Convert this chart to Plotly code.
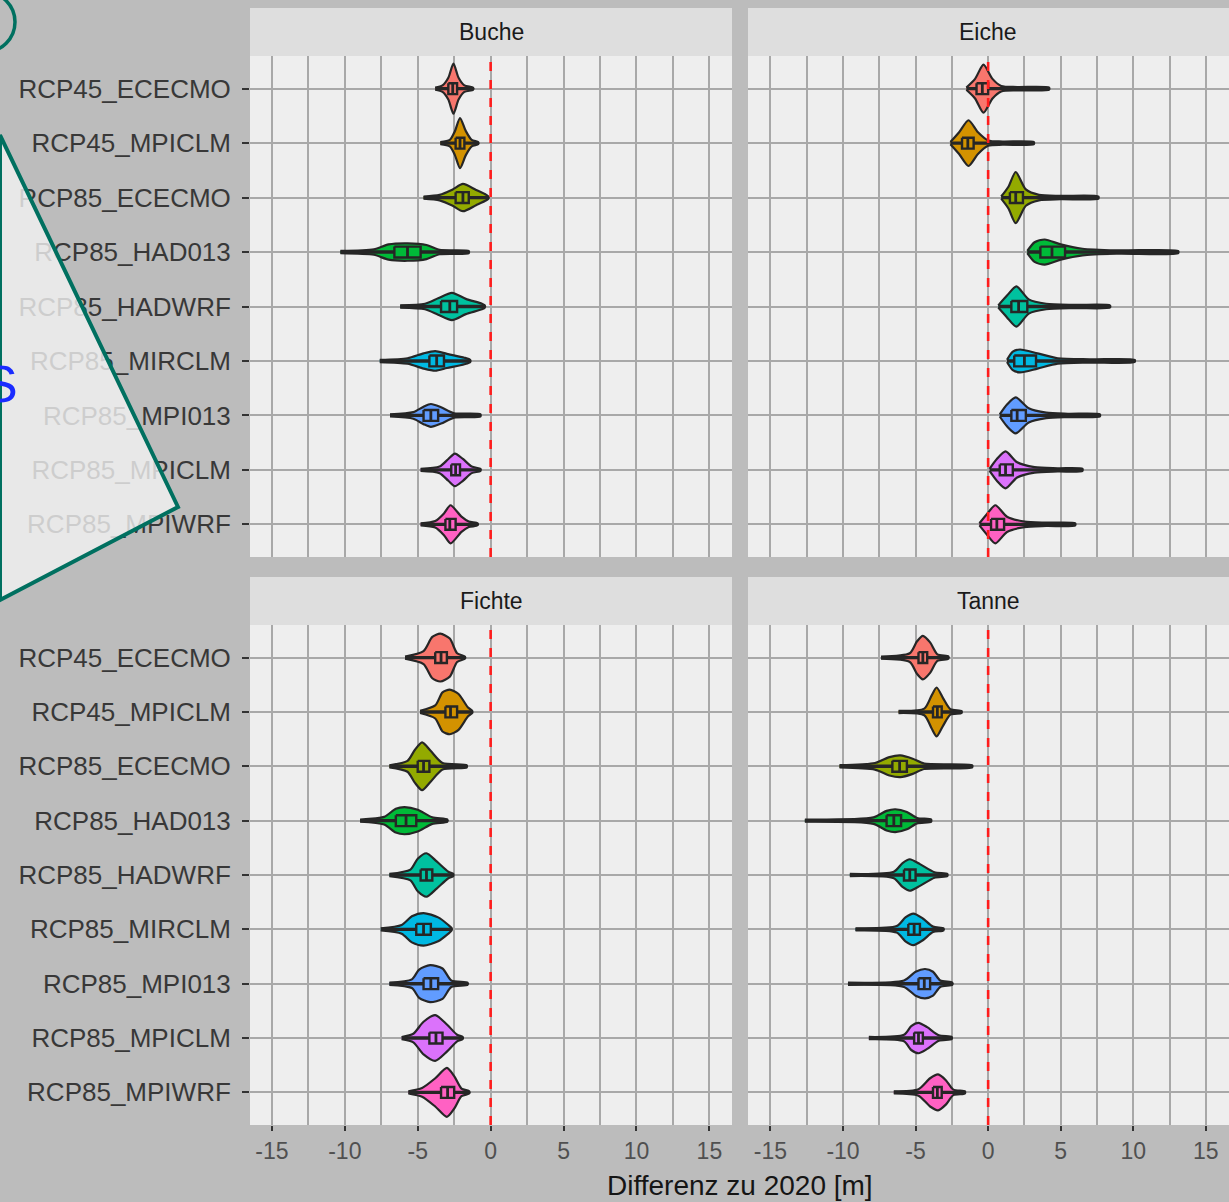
import plotly.graph_objects as go

W, H = 1229, 1202

categories = ["RCP45_ECECMO", "RCP45_MPICLM", "RCP85_ECECMO", "RCP85_HAD013",
              "RCP85_HADWRF", "RCP85_MIRCLM", "RCP85_MPI013", "RCP85_MPICLM",
              "RCP85_MPIWRF"]
colors = ["#F8766D", "#D39200", "#93AA00", "#00BA38", "#00C19F",
          "#00B9E3", "#619CFF", "#DB72FB", "#FF61C3"]
panels = ["Buche", "Eiche", "Fichte", "Tanne"]
x_ticks = [-15, -10, -5, 0, 5, 10, 15]

# ---- violin outline knots (x positions) and half widths (category units) ----
buche_vx = [
    [-3.8, -3.3, -2.9, -2.55, -2.2, -1.8, -1.2],
    [-3.45, -2.8, -2.45, -2.1, -1.7, -1.3, -0.85],
    [-4.6, -3.5, -2.6, -1.9, -1.0, -0.3, -0.15],
    [-10.3, -8.0, -7.0, -5.7, -4.4, -3.5, -1.5],
    [-6.2, -4.5, -3.6, -2.65, -1.7, -0.6, -0.4],
    [-7.6, -5.7, -4.6, -3.8, -3.0, -1.8, -1.4],
    [-6.9, -5.3, -4.6, -4.1, -3.4, -2.5, -0.7],
    [-4.8, -3.5, -2.9, -2.45, -1.9, -1.3, -0.7],
    [-4.8, -3.8, -3.2, -2.75, -2.0, -1.5, -0.9],
]
buche_vw = [
    [0.02, 0.06, 0.2, 0.46, 0.2, 0.06, 0.02],
    [0.02, 0.06, 0.22, 0.46, 0.22, 0.06, 0.02],
    [0.02, 0.05, 0.15, 0.25, 0.14, 0.05, 0.02],
    [0.02, 0.05, 0.14, 0.16, 0.13, 0.04, 0.02],
    [0.02, 0.05, 0.15, 0.25, 0.14, 0.05, 0.02],
    [0.02, 0.05, 0.14, 0.18, 0.13, 0.06, 0.02],
    [0.02, 0.06, 0.16, 0.21, 0.15, 0.04, 0.02],
    [0.02, 0.06, 0.2, 0.3, 0.2, 0.06, 0.02],
    [0.02, 0.06, 0.2, 0.35, 0.14, 0.05, 0.02],
]
buche_q1 = [-2.9, -2.4, -2.4, -6.6, -3.4, -4.2, -4.6, -2.7, -3.1]
buche_med = [-2.6, -2.1, -1.9, -5.7, -2.8, -3.7, -4.1, -2.4, -2.8]
buche_q3 = [-2.3, -1.8, -1.5, -4.8, -2.3, -3.2, -3.6, -2.1, -2.4]

eiche_vx = [
    [-1.5, -0.9, -0.32, 0.3, 0.9, 2.0, 4.2],
    [-2.6, -2.0, -1.35, -0.7, 0.0, 1.0, 3.15],
    [0.9, 1.4, 1.9, 2.6, 3.5, 5.0, 7.6],
    [2.7, 3.2, 3.9, 5.0, 6.5, 9.0, 13.1],
    [0.7, 1.3, 1.95, 2.8, 4.0, 6.0, 8.4],
    [1.3, 1.7, 2.2, 3.4, 4.8, 7.0, 10.1],
    [0.8, 1.3, 1.9, 2.8, 4.0, 5.5, 7.7],
    [0.1, 0.6, 1.2, 2.0, 3.2, 4.8, 6.5],
    [-0.6, -0.05, 0.5, 1.3, 2.5, 4.0, 6.0],
]
eiche_vw = [
    [0.02, 0.18, 0.44, 0.18, 0.05, 0.03, 0.02],
    [0.02, 0.2, 0.42, 0.2, 0.05, 0.03, 0.02],
    [0.02, 0.2, 0.47, 0.15, 0.05, 0.03, 0.02],
    [0.02, 0.18, 0.23, 0.14, 0.06, 0.03, 0.02],
    [0.02, 0.2, 0.37, 0.13, 0.05, 0.03, 0.02],
    [0.02, 0.17, 0.21, 0.14, 0.05, 0.03, 0.02],
    [0.02, 0.2, 0.33, 0.13, 0.05, 0.03, 0.02],
    [0.02, 0.2, 0.34, 0.14, 0.05, 0.03, 0.02],
    [0.02, 0.2, 0.35, 0.14, 0.05, 0.03, 0.02],
]
eiche_q1 = [-0.8, -1.8, 1.5, 3.6, 1.6, 1.8, 1.6, 0.8, 0.2]
eiche_med = [-0.4, -1.4, 1.9, 4.4, 2.1, 2.5, 2.0, 1.2, 0.6]
eiche_q3 = [0.0, -1.0, 2.4, 5.3, 2.7, 3.3, 2.6, 1.7, 1.1]

fichte_vx = [
    [-5.87, -4.6, -4.0, -3.45, -2.8, -2.3, -1.76],
    [-4.84, -3.8, -3.3, -2.8, -2.2, -1.55, -1.26],
    [-6.94, -5.7, -5.2, -4.7, -4.1, -3.3, -1.64],
    [-8.95, -7.3, -6.5, -5.9, -5.0, -4.0, -2.97],
    [-6.94, -5.5, -5.0, -4.4, -3.7, -2.9, -2.56],
    [-7.53, -6.1, -5.4, -4.6, -3.6, -2.9, -2.67],
    [-6.94, -5.4, -4.9, -4.15, -3.3, -2.7, -1.58],
    [-6.1, -5.3, -4.6, -3.8, -3.0, -2.3, -1.92],
    [-5.64, -4.7, -3.8, -3.0, -2.5, -2.0, -1.46],
]
fichte_vw = [
    [0.02, 0.12, 0.38, 0.44, 0.35, 0.08, 0.02],
    [0.02, 0.12, 0.36, 0.41, 0.33, 0.08, 0.02],
    [0.02, 0.1, 0.3, 0.44, 0.28, 0.06, 0.02],
    [0.02, 0.07, 0.22, 0.25, 0.2, 0.06, 0.02],
    [0.02, 0.1, 0.3, 0.4, 0.25, 0.06, 0.02],
    [0.02, 0.08, 0.24, 0.3, 0.22, 0.08, 0.02],
    [0.02, 0.08, 0.26, 0.34, 0.28, 0.06, 0.02],
    [0.02, 0.08, 0.3, 0.42, 0.25, 0.06, 0.02],
    [0.02, 0.08, 0.26, 0.45, 0.3, 0.07, 0.02],
]
fichte_q1 = [-3.8, -3.1, -5.0, -6.5, -4.8, -5.1, -4.6, -4.2, -3.4]
fichte_med = [-3.4, -2.75, -4.6, -5.8, -4.4, -4.6, -4.1, -3.75, -2.95]
fichte_q3 = [-3.0, -2.3, -4.2, -5.1, -4.0, -4.1, -3.6, -3.3, -2.5]

tanne_vx = [
    [-7.38, -5.4, -4.9, -4.5, -4.0, -3.5, -2.74],
    [-6.17, -4.4, -3.9, -3.55, -3.1, -2.6, -1.83],
    [-10.24, -7.8, -6.8, -6.05, -5.2, -4.4, -1.1],
    [-12.63, -7.9, -7.0, -6.4, -5.6, -4.9, -3.93],
    [-9.53, -6.5, -5.9, -5.4, -4.7, -3.7, -2.81],
    [-9.14, -6.3, -5.7, -5.15, -4.5, -3.8, -3.08],
    [-9.66, -5.8, -5.0, -4.35, -3.8, -3.3, -2.47],
    [-8.22, -5.8, -5.3, -4.8, -4.2, -3.4, -2.51],
    [-6.5, -4.8, -4.0, -3.45, -2.9, -2.4, -1.6],
]
tanne_vw = [
    [0.02, 0.08, 0.3, 0.4, 0.28, 0.06, 0.02],
    [0.02, 0.06, 0.3, 0.45, 0.25, 0.05, 0.02],
    [0.02, 0.06, 0.17, 0.2, 0.14, 0.05, 0.02],
    [0.02, 0.06, 0.18, 0.21, 0.16, 0.05, 0.02],
    [0.02, 0.06, 0.22, 0.29, 0.2, 0.05, 0.02],
    [0.02, 0.06, 0.22, 0.29, 0.2, 0.05, 0.02],
    [0.02, 0.06, 0.22, 0.27, 0.22, 0.06, 0.02],
    [0.02, 0.06, 0.22, 0.28, 0.2, 0.05, 0.02],
    [0.02, 0.06, 0.26, 0.33, 0.22, 0.05, 0.02],
]
tanne_q1 = [-4.8, -3.8, -6.6, -7.0, -5.8, -5.5, -4.8, -5.1, -3.8]
tanne_med = [-4.5, -3.5, -6.1, -6.5, -5.4, -5.1, -4.4, -4.8, -3.5]
tanne_q3 = [-4.2, -3.2, -5.6, -6.0, -5.0, -4.7, -4.0, -4.5, -3.2]

panel_data = {
    "Buche": (buche_vx, buche_vw, buche_q1, buche_med, buche_q3),
    "Eiche": (eiche_vx, eiche_vw, eiche_q1, eiche_med, eiche_q3),
    "Fichte": (fichte_vx, fichte_vw, fichte_q1, fichte_med, fichte_q3),
    "Tanne": (tanne_vx, tanne_vw, tanne_q1, tanne_med, tanne_q3),
}

# ---- layout geometry (pixels) ----
def px(xp):
    return xp / W


def py(yp):
    return 1 - yp / H


x_dom = [[px(250), px(732)], [px(748), 1.0]]
y_dom = [[py(557), py(56)], [py(1125), py(625)]]
strip_y = [[py(56), py(8)], [py(625), py(577)]]
x_ranges = [[-16.5, 16.55], [-16.55, 16.6]]
strip_cx = [px(491), px(988)]

BOX_HALF = 0.1
DARK = "#262626"
FONT = "Liberation Sans, Arial, sans-serif"
fig = go.Figure()

for pi, name in enumerate(panels):
    axn = "" if pi == 0 else str(pi + 1)
    xa, ya = "x" + axn, "y" + axn
    vx, vw, q1, med, q3 = panel_data[name]
    tail_x, tail_y, med_x, med_y = [], [], [], []
    for ci, cat in enumerate(categories):
        yc = ci + 1
        xs = vx[ci]
        ws = vw[ci]
        poly_x = xs + xs[::-1]
        poly_y = [yc - w for w in ws] + [yc + w for w in ws[::-1]]
        fig.add_trace(go.Scatter(
            x=poly_x, y=poly_y, xaxis=xa, yaxis=ya, mode="lines",
            fill="toself", fillcolor=colors[ci],
            line=dict(color=DARK, width=2.2, shape="spline", smoothing=0.7),
            hoverinfo="skip", showlegend=False))
        tail_x += [xs[0], xs[-1], None]
        tail_y += [yc, yc, None]
    fig.add_trace(go.Scatter(
        x=tail_x, y=tail_y, xaxis=xa, yaxis=ya, mode="lines",
        line=dict(color=DARK, width=3.4), hoverinfo="skip", showlegend=False))
    for ci, cat in enumerate(categories):
        yc = ci + 1
        fig.add_trace(go.Scatter(
            x=[q1[ci], q3[ci], q3[ci], q1[ci], q1[ci]],
            y=[yc - BOX_HALF, yc - BOX_HALF, yc + BOX_HALF, yc + BOX_HALF, yc - BOX_HALF],
            xaxis=xa, yaxis=ya, mode="lines", fill="toself",
            fillcolor=colors[ci], line=dict(color=DARK, width=2.4),
            hoverinfo="skip", showlegend=False))
        med_x += [med[ci], med[ci], None]
        med_y += [yc - BOX_HALF, yc + BOX_HALF, None]
    fig.add_trace(go.Scatter(
        x=med_x, y=med_y, xaxis=xa, yaxis=ya, mode="lines",
        line=dict(color=DARK, width=2.8), hoverinfo="skip", showlegend=False))

    col = pi % 2
    row = pi // 2
    xkey = "xaxis" + axn
    ykey = "yaxis" + axn
    fig.layout[xkey] = dict(
        domain=x_dom[col], anchor=ya, range=x_ranges[col],
        tickvals=x_ticks, ticktext=[str(t) for t in x_ticks],
        showticklabels=(row == 1), ticks="outside" if row == 1 else "",
        ticklen=5, tickwidth=2, tickcolor="#333333",
        tickfont=dict(family=FONT, size=23, color="#505050"),
        showgrid=True, gridcolor="#a8a8a8", gridwidth=2,
        minor=dict(dtick=2.5, tick0=0, showgrid=True, gridcolor="#a8a8a8", gridwidth=2),
        zeroline=False, showline=False, fixedrange=True)
    fig.layout[ykey] = dict(
        domain=y_dom[row], anchor=xa, range=[9.6, 0.4],
        tickvals=list(range(1, len(categories) + 1)), ticktext=categories,
        showticklabels=(col == 0), ticks="outside" if col == 0 else "",
        ticklen=7, tickwidth=2, tickcolor="#333333", ticklabelstandoff=6,
        tickfont=dict(family=FONT, size=26, color="#383838"),
        showgrid=True, gridcolor="#a8a8a8", gridwidth=2,
        zeroline=False, showline=False, fixedrange=True)

    # strip
    fig.add_shape(type="rect", xref="paper", yref="paper",
                  x0=x_dom[col][0], x1=x_dom[col][1],
                  y0=strip_y[row][0], y1=strip_y[row][1],
                  fillcolor="#dedede", line=dict(width=0), layer="below")
    fig.add_annotation(x=strip_cx[col],
                       y=(strip_y[row][0] + strip_y[row][1]) / 2,
                       xref="paper", yref="paper", text=name, showarrow=False,
                       xanchor="center", yanchor="middle",
                       font=dict(family=FONT, size=23, color="#1a1a1a"))
    # dashed zero line
    fig.add_shape(type="line", xref=xa, yref=ya + " domain", x0=0, x1=0, y0=0, y1=1,
                  line=dict(color="#ff1c1c", width=2.6, dash="dash"))

# axis title
fig.add_annotation(x=px(740), y=py(1185), xref="paper", yref="paper",
                   text="Differenz zu 2020 [m]", showarrow=False,
                   xanchor="center", yanchor="middle",
                   font=dict(family=FONT, size=28, color="#151515"))

# slide overlay (callout polygon, partial circle and letter at left edge)
fig.add_shape(type="path", xref="paper", yref="paper",
              path=f"M 0,{py(135)} L {px(178)},{py(507)} L 0,{py(600)} Z",
              fillcolor="rgba(242,242,242,0.8)", line=dict(color="#007060", width=4),
              layer="above")
fig.add_shape(type="circle", xref="paper", yref="paper",
              x0=px(-45), x1=px(15), y0=py(52), y1=py(-8),
              line=dict(color="#007060", width=3.5), layer="above")
fig.add_annotation(x=0, y=py(384), xref="paper", yref="paper", text="S",
                   showarrow=False, xanchor="center", yanchor="middle",
                   font=dict(family=FONT, size=52, color="#1a2cff"))

fig.update_layout(
    width=W, height=H, margin=dict(l=0, r=0, t=0, b=0),
    paper_bgcolor="#bcbcbc", plot_bgcolor="#eeeeee",
    showlegend=False)

fig.write_html("out.html", config={"displayModeBar": False},
               post_script="document.body.style.margin='0';document.body.style.overflow='hidden';")
